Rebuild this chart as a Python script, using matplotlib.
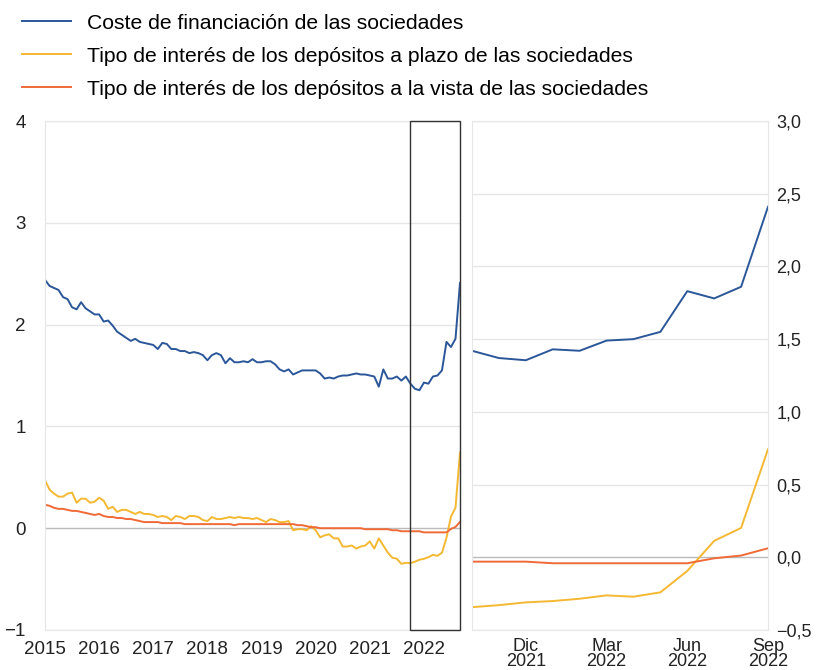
import numpy as np
import matplotlib.pyplot as plt

plt.rcParams['font.family'] = ['Liberation Sans', 'DejaVu Sans']

# monthly data, Jan 2015 - Sep 2022
coste = [2.44, 2.38, 2.36, 2.34, 2.27, 2.25, 2.17, 2.15, 2.22, 2.16, 2.13, 2.10,
         2.10, 2.03, 2.04, 1.99, 1.93, 1.90, 1.87, 1.84, 1.86, 1.83, 1.82, 1.81,
         1.80, 1.76, 1.82, 1.81, 1.76, 1.76, 1.74, 1.74, 1.72, 1.73, 1.72, 1.70,
         1.65, 1.70, 1.72, 1.70, 1.62, 1.67, 1.63, 1.63, 1.64, 1.63, 1.66, 1.63,
         1.63, 1.64, 1.64, 1.61, 1.56, 1.54, 1.56, 1.51, 1.53, 1.55, 1.55, 1.55,
         1.55, 1.52, 1.47, 1.48, 1.47, 1.49, 1.50, 1.50, 1.51, 1.52, 1.51, 1.51,
         1.50, 1.49, 1.39, 1.56, 1.47, 1.47, 1.49, 1.45, 1.49, 1.42, 1.37, 1.355,
         1.43, 1.42, 1.49, 1.50, 1.55, 1.83, 1.78, 1.86, 2.41]
plazo = [0.47, 0.38, 0.34, 0.31, 0.31, 0.34, 0.35, 0.25, 0.29, 0.29, 0.25, 0.26,
         0.30, 0.27, 0.19, 0.21, 0.16, 0.18, 0.18, 0.16, 0.14, 0.16, 0.14, 0.14,
         0.13, 0.11, 0.12, 0.11, 0.08, 0.12, 0.11, 0.09, 0.12, 0.12, 0.11, 0.08,
         0.07, 0.11, 0.09, 0.09, 0.10, 0.11, 0.10, 0.11, 0.10, 0.10, 0.09, 0.10,
         0.08, 0.06, 0.09, 0.08, 0.06, 0.06, 0.07, -0.02, -0.01, -0.01, -0.02, 0.02,
         -0.02, -0.09, -0.07, -0.06, -0.10, -0.10, -0.18, -0.18, -0.17, -0.20, -0.18, -0.17,
         -0.13, -0.20, -0.10, -0.17, -0.24, -0.29, -0.30, -0.35, -0.34, -0.343, -0.329, -0.31,
         -0.301, -0.285, -0.262, -0.271, -0.241, -0.094, 0.113, 0.202, 0.743]
vista = [0.23, 0.22, 0.20, 0.19, 0.19, 0.18, 0.17, 0.17, 0.16, 0.15, 0.14, 0.13,
         0.14, 0.12, 0.11, 0.11, 0.10, 0.10, 0.09, 0.09, 0.08, 0.07, 0.06, 0.06,
         0.06, 0.06, 0.05, 0.05, 0.05, 0.05, 0.05, 0.04, 0.04, 0.04, 0.04, 0.04,
         0.04, 0.04, 0.04, 0.04, 0.04, 0.04, 0.03, 0.04, 0.04, 0.04, 0.04, 0.04,
         0.04, 0.04, 0.04, 0.04, 0.04, 0.04, 0.04, 0.04, 0.03, 0.03, 0.02, 0.01,
         0.01, 0.00, 0.00, 0.00, 0.00, 0.00, 0.00, 0.00, 0.00, 0.00, 0.00, -0.01,
         -0.01, -0.01, -0.01, -0.01, -0.01, -0.02, -0.02, -0.03, -0.03, -0.03, -0.03, -0.03,
         -0.041, -0.041, -0.041, -0.041, -0.041, -0.041, -0.007, 0.012, 0.062]

years = [2015, 2016, 2017, 2018, 2019, 2020, 2021, 2022]
zoom_labels = ['Dic\n2021', 'Mar\n2022', 'Jun\n2022', 'Sep\n2022']
n_zoom = 12  # Oct 2021 - Sep 2022

blue, yellow, orange = '#2B579A', '#F5B833', '#F06A38'
grid_c = '#E6E6E6'

x = 2015 + np.arange(len(coste)) / 12

fig = plt.figure(figsize=(8.17, 6.70), dpi=100)
ax1 = fig.add_axes([45 / 817, 1 - 630 / 670, 415 / 817, 509 / 670])
ax2 = fig.add_axes([472 / 817, 1 - 630 / 670, 296 / 817, 509 / 670])

l1, = ax1.plot(x, coste, color=blue, lw=1.4)
l2, = ax1.plot(x, plazo, color=yellow, lw=1.4)
l3, = ax1.plot(x, vista, color=orange, lw=1.4)
ax1.set_ylim(-1, 4)
ax1.set_xlim(2015, x[-1])
ax1.set_yticks(range(-1, 5))
ax1.set_yticklabels(['\u22121', '0', '1', '2', '3', '4'])
ax1.set_xticks(years)
ax1.set_xticklabels([str(y) for y in years])
for v in range(-1, 5):
    ax1.axhline(v, color='#BBBBBB' if v == 0 else grid_c, lw=1, zorder=0)
ax1.add_patch(plt.Rectangle((x[-n_zoom], -1), x[-1] - x[-n_zoom], 5,
                            fill=False, ec='#333333', lw=1, zorder=5, clip_on=False))

xz = np.arange(n_zoom)
ax2.plot(xz, coste[-n_zoom:], color=blue, lw=1.4)
ax2.plot(xz, plazo[-n_zoom:], color=yellow, lw=1.4)
ax2.plot(xz, vista[-n_zoom:], color=orange, lw=1.4)
ax2.set_ylim(-0.5, 3.0)
ax2.set_xlim(0, n_zoom - 1)
yt = np.arange(-0.5, 3.01, 0.5)
ax2.set_yticks(yt)
ax2.set_yticklabels([('%.1f' % v).replace('.', ',').replace('-', '\u2212') for v in yt])
ax2.yaxis.tick_right()
ax2.set_xticks([2, 5, 8, 11])
ax2.set_xticklabels(zoom_labels, linespacing=0.8)
for v in yt:
    ax2.axhline(v, color='#BBBBBB' if v == 0 else grid_c, lw=1, zorder=0)

for ax in (ax1, ax2):
    for s in ax.spines.values():
        s.set_color(grid_c)
    ax.tick_params(length=0, labelsize=13.5, colors='#222222')
ax1.tick_params(axis='y', pad=14)
ax1.tick_params(axis='x', pad=8)
ax2.tick_params(axis='y', pad=6, labelsize=13)
ax2.tick_params(axis='x', pad=6, labelsize=13)

fig.legend([l1, l2, l3],
           ['Coste de financiación de las sociedades',
            'Tipo de interés de los depósitos a plazo de las sociedades',
            'Tipo de interés de los depósitos a la vista de las sociedades'],
           loc='upper left', bbox_to_anchor=(0.004, 1.008), frameon=False,
           fontsize=15.2, handlelength=2.3, labelspacing=0.66, handletextpad=0.75)

fig.savefig('out.png', dpi=100)
